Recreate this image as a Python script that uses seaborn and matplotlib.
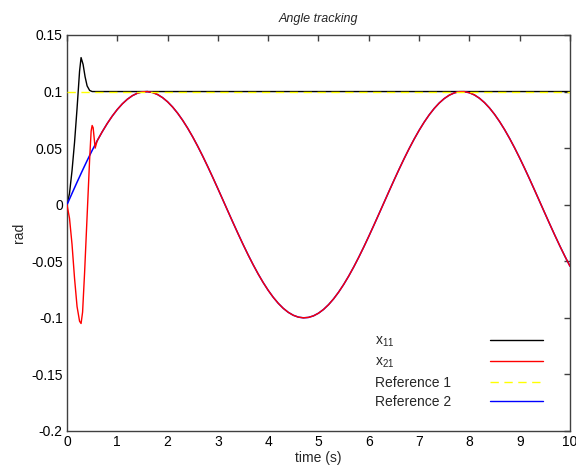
import matplotlib
matplotlib.use("Agg")
import matplotlib.pyplot as plt
import seaborn as sns
import pandas as pd
from matplotlib.lines import Line2D

# ---- data ----
t_ref = [0.0, 0.1, 0.2, 0.3, 0.4, 0.5, 0.6, 0.7, 0.8, 0.9,
         1.0, 1.1, 1.2, 1.3, 1.4, 1.5, 1.6, 1.7, 1.8, 1.9,
         2.0, 2.1, 2.2, 2.3, 2.4, 2.5, 2.6, 2.7, 2.8, 2.9,
         3.0, 3.1, 3.2, 3.3, 3.4, 3.5, 3.6, 3.7, 3.8, 3.9,
         4.0, 4.1, 4.2, 4.3, 4.4, 4.5, 4.6, 4.7, 4.8, 4.9,
         5.0, 5.1, 5.2, 5.3, 5.4, 5.5, 5.6, 5.7, 5.8, 5.9,
         6.0, 6.1, 6.2, 6.3, 6.4, 6.5, 6.6, 6.7, 6.8, 6.9,
         7.0, 7.1, 7.2, 7.3, 7.4, 7.5, 7.6, 7.7, 7.8, 7.9,
         8.0, 8.1, 8.2, 8.3, 8.4, 8.5, 8.6, 8.7, 8.8, 8.9,
         9.0, 9.1, 9.2, 9.3, 9.4, 9.5, 9.6, 9.7, 9.8, 9.9,
         10.0]
ref2 = [0.0, 0.00998, 0.01987, 0.02955, 0.03894, 0.04794, 0.05646, 0.06442, 0.07174, 0.07833,
        0.08415, 0.08912, 0.09320, 0.09636, 0.09854, 0.09975, 0.09996, 0.09917, 0.09738, 0.09463,
        0.09093, 0.08632, 0.08085, 0.07457, 0.06755, 0.05985, 0.05155, 0.04274, 0.03350, 0.02392,
        0.01411, 0.00416, -0.00584, -0.01577, -0.02555, -0.03508, -0.04425, -0.05298, -0.06119, -0.06878,
        -0.07568, -0.08183, -0.08716, -0.09162, -0.09516, -0.09775, -0.09937, -0.09999, -0.09962, -0.09825,
        -0.09589, -0.09258, -0.08835, -0.08323, -0.07728, -0.07055, -0.06313, -0.05507, -0.04646, -0.03739,
        -0.02794, -0.01822, -0.00831, 0.00168, 0.01165, 0.02151, 0.03115, 0.04048, 0.04941, 0.05784,
        0.06570, 0.07290, 0.07937, 0.08504, 0.08987, 0.09380, 0.09679, 0.09882, 0.09985, 0.09989,
        0.09894, 0.09699, 0.09407, 0.09022, 0.08546, 0.07985, 0.07344, 0.06630, 0.05849, 0.05010,
        0.04121, 0.03191, 0.02229, 0.01245, 0.00248, -0.00752, -0.01743, -0.02718, -0.03665, -0.04575,
        -0.05440]
t_ref1 = [0.0, 10.0]
ref1 = [0.1, 0.1]

t_x11 = [0.0, 0.05, 0.1, 0.15, 0.2, 0.25, 0.28, 0.32, 0.36, 0.4, 0.45, 0.5, 10.0]
x11 = [0.0, 0.01, 0.03, 0.055, 0.085, 0.118, 0.13, 0.124, 0.113, 0.105, 0.101, 0.1, 0.1]

t_x21_start = [0.0, 0.05, 0.1, 0.15, 0.2, 0.25, 0.28, 0.31, 0.35, 0.4, 0.45, 0.48, 0.5, 0.52, 0.56]
x21_start = [0.0, -0.012, -0.035, -0.065, -0.09, -0.103, -0.105, -0.095, -0.06, -0.01, 0.04,
             0.065, 0.07, 0.068, 0.05]

labels = ["x$_{11}$", "x$_{21}$", "Reference 1", "Reference 2"]
colors = ["black", "red", "#ffff00", "blue"]

# build tables
df_x11 = pd.DataFrame({"t": t_x11, "v": x11})
df_x21 = pd.DataFrame({"t": t_x21_start + t_ref[6:], "v": x21_start + ref2[6:]})
df_r1 = pd.DataFrame({"t": t_ref1, "v": ref1})
df_r2 = pd.DataFrame({"t": t_ref, "v": ref2})

sns.set_style("white")
plt.rcParams["font.family"] = ["Liberation Sans", "DejaVu Sans"]
plt.rcParams["mathtext.fontset"] = "custom"
plt.rcParams["mathtext.rm"] = "Liberation Sans"
plt.rcParams["mathtext.it"] = "Liberation Sans"

fig = plt.figure(figsize=(5.76, 4.70), dpi=100)
ax = fig.add_axes([0.1163, 0.083, 0.8733, 0.8426])

sns.lineplot(data=df_x11, x="t", y="v", ax=ax, color=colors[0], lw=1, zorder=2, estimator=None, sort=False)
sns.lineplot(data=df_r2, x="t", y="v", ax=ax, color=colors[3], lw=1.1, zorder=3, estimator=None, sort=False)
sns.lineplot(data=df_x21, x="t", y="v", ax=ax, color=colors[1], lw=1, zorder=4, estimator=None, sort=False)
sns.lineplot(data=df_r1, x="t", y="v", ax=ax, color=colors[2], lw=1, zorder=5, estimator=None, sort=False,
             linestyle=(0, (6, 4)))

ax.set_xlim(0, 10)
ax.set_ylim(-0.2, 0.15)
ax.set_xticks(range(0, 11))
ax.set_yticks([-0.2, -0.15, -0.1, -0.05, 0, 0.05, 0.1, 0.15])
ax.set_yticklabels(["-0.2", "-0.15", "-0.1", "-0.05", "0", "0.05", "0.1", "0.15"])
ax.set_xlabel("time (s)", fontsize=10, labelpad=1)
ax.set_ylabel("rad", fontsize=10, labelpad=4)
ax.set_title("Angle tracking", fontsize=9, style="italic", pad=9)

ax.tick_params(direction="in", length=4, width=1, top=True, right=True,
               labelsize=10, colors="#404040", labelcolor="black", pad=3)
for s in ax.spines.values():
    s.set_color("#404040")
    s.set_linewidth(1)
    s.set_visible(True)

handles = [Line2D([], [], color=colors[0], lw=1),
           Line2D([], [], color=colors[1], lw=1),
           Line2D([], [], color=colors[2], lw=1, linestyle=(0, (6, 4))),
           Line2D([], [], color=colors[3], lw=1)]

# handles column (right), texts hidden so rows match
leg_h = ax.legend(handles, labels, loc="lower right", bbox_to_anchor=(0.946, 0.055),
                  frameon=False, markerfirst=False, handlelength=3.8, handletextpad=0.4,
                  labelspacing=0.4, borderpad=0, borderaxespad=0, fontsize=10)
for txt in leg_h.get_texts():
    txt.set_alpha(0)
ax.add_artist(leg_h)

# texts column (left aligned)
blank = [Line2D([], [], lw=0) for _ in labels]
ax.legend(blank, labels, loc="lower left", bbox_to_anchor=(0.612, 0.055),
          frameon=False, handlelength=0, handletextpad=0, labelspacing=0.4,
          borderpad=0, borderaxespad=0, fontsize=10)

fig.savefig("out.png", dpi=100)
